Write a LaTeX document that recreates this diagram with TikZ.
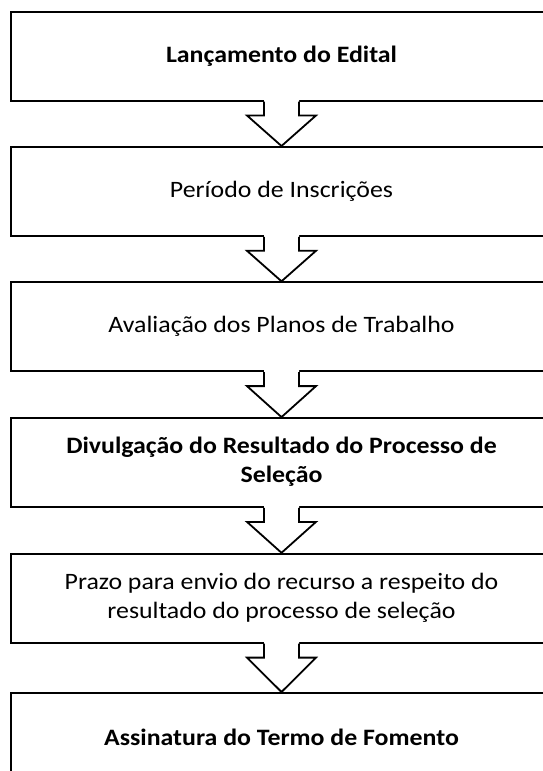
\documentclass[tikz,border=0pt]{standalone}
\usepackage{fontspec}
\setmainfont{Carlito}[FakeStretch=1.1]
\usetikzlibrary{calc}
\tikzset{
  stepbox/.style={draw=black, line width=1.8pt, fill=white, minimum width=541pt, minimum height=89pt,
    align=center, inner sep=0pt, font=\fontsize{23.5}{28.8}\selectfont},
  flowarrow/.style={draw=black, line width=1.8pt, line join=miter},
}
\newcommand{\blockarrow}[2]{%
  \fill[white] ($(#1.south)+(-17.5,-2)$) -- ($(#1.south)+(-17.5,14)$) -- ($(#1.south)+(-34.5,14)$)
     -- (#2.north) -- ($(#1.south)+(34.5,14)$) -- ($(#1.south)+(17.5,14)$) -- ($(#1.south)+(17.5,-2)$) -- cycle;
  \draw[flowarrow] ($(#1.south)+(-17.5,0)$) -- ($(#1.south)+(-17.5,14)$) -- ($(#1.south)+(-34.5,14)$)
     -- (#2.north) -- ($(#1.south)+(34.5,14)$) -- ($(#1.south)+(17.5,14)$) -- ($(#1.south)+(17.5,0)$);
}
\begin{document}
\begin{tikzpicture}[x=1pt, y=-1pt]
\useasboundingbox (0,0) rectangle (543,771);
\fill[white] (0,0) rectangle (543,771);
\clip (0,0) rectangle (543,771);
\node[stepbox] (b1) at (281.5,56.1) {\bfseries Lançamento do Edital};
\node[stepbox] (b2) at (281.5,191.4) {Período de Inscrições};
\node[stepbox] (b3) at (281.5,326.7) {Avaliação dos Planos de Trabalho};
\node[stepbox] (b4) at (281.5,462.5) {\raisebox{-3pt}{\begin{tabular}{@{}c@{}}\bfseries Divulgação do Resultado do Processo de\\\bfseries Seleção\end{tabular}}};
\node[stepbox] (b5) at (281.5,598.2) {Prazo para envio do recurso a respeito do\\resultado do processo de seleção};
\node[stepbox] (b6) at (281.5,737.4) {\bfseries Assinatura do Termo de Fomento};
\blockarrow{b1}{b2}
\blockarrow{b2}{b3}
\blockarrow{b3}{b4}
\blockarrow{b4}{b5}
\blockarrow{b5}{b6}
\end{tikzpicture}
\end{document}
